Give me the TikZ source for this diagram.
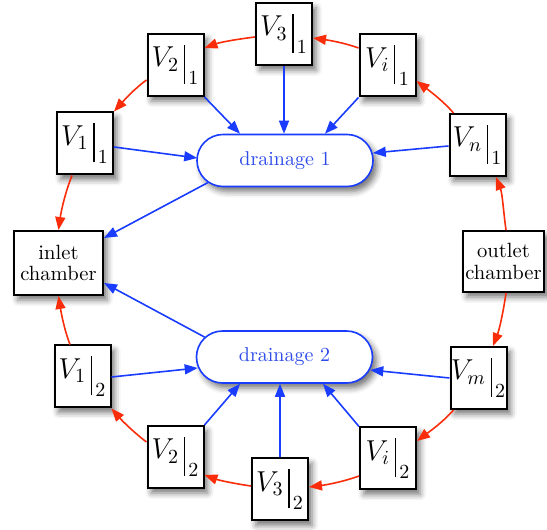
\documentclass[tikz,border=0pt]{standalone}
\usetikzlibrary{shapes.misc,arrows.meta,shadows.blur,calc}
\definecolor{myred}{RGB}{250,45,10}
\definecolor{myblue}{RGB}{25,60,255}
\definecolor{mytext}{RGB}{45,75,235}
\newcommand{\vv}[2]{$V_{#1}\mkern3mu\rule[-8.5pt]{0.6pt}{19.5pt}_{\,#2}$}
\begin{document}
\begin{tikzpicture}[x=0.5pt,y=0.5pt,
  box/.style={draw=black, line width=1pt, fill=white, minimum width=28pt, minimum height=31pt,
    inner sep=0pt, font=\Large,
    blur shadow={shadow xshift=2pt, shadow yshift=-2.5pt, shadow blur radius=3pt, shadow opacity=55}},
  chamber/.style={box, font=\fontsize{10.3}{10.8}\selectfont, align=center},
  drain/.style={rounded rectangle, draw=myblue, line width=0.8pt, fill=white, text=mytext,
    minimum width=88pt, minimum height=26pt, inner sep=0pt,
    blur shadow={shadow xshift=2pt, shadow yshift=-2.5pt, shadow blur radius=3pt, shadow opacity=55}},
  redarr/.style={draw=myred, line width=0.8pt, -{Triangle[length=6.5pt,width=5pt]}, looseness=0.85},
  bluearr/.style={draw=myblue, line width=0.8pt, -{Triangle[length=6.5pt,width=5pt]}},
]
\useasboundingbox (0,0) rectangle (547,530);

% nodes
\node[box] (V31) at (284,496) {\vv{3}{1}};
\node[box] (V21) at (175.5,465) {\vv{2}{1}};
\node[box] (Vi1) at (387.5,464.5) {\vv{i}{1}};
\node[box] (V11) at (85,386.5) {\vv{1}{1}};
\node[box] (Vn1) at (477.5,385) {\vv{n}{1}};
\node[chamber, minimum width=44.5pt, minimum height=32pt] (inlet) at (58.5,267) {inlet\\chamber};
\node[chamber, minimum width=40.5pt, minimum height=30.5pt] (outlet) at (503.5,268.5) {outlet\\chamber};
\node[drain] (d1) at (285,369.5) {drainage 1};
\node[drain] (d2) at (284.5,173) {drainage 2};
\node[box] (V12) at (82.5,153.5) {\vv{1}{2}};
\node[box] (V22) at (175.5,73) {\vv{2}{2}};
\node[box] (V32) at (280,40.5) {\vv{3}{2}};
\node[box] (Vi2) at (388,71.5) {\vv{i}{2}};
\node[box] (Vm2) at (478.5,152) {\vv{m}{2}};

% red circulation arcs (upper)
\draw[redarr] ($(outlet.north)+(2.5,0)$) to[out=98,in=-69] ($(Vn1.south)+(18.5,0)$);
\draw[redarr] ($(Vn1.north west)+(5,0)$) to[out=131,in=-37] ($(Vi1.east)+(0,-15.5)$);
\draw[redarr] ($(Vi1.west)+(0,17.5)$) to[out=160,in=-8] ($(V31.east)+(0,-4)$);
\draw[redarr] ($(V31.west)+(0,-3)$) to[out=187,in=20] ($(V21.east)+(0,17)$);
\draw[redarr] ($(V21.west)+(0,-15)$) to[out=216,in=48] (V11.north east);
\draw[redarr] ($(V11.south)+(-13,0)$) to[out=248,in=82] (inlet.north);
% red circulation arcs (lower)
\draw[redarr] ($(outlet.south)+(2.5,0)$) to[out=-98,in=69] ($(Vm2.north)+(14.5,0)$);
\draw[redarr] ($(Vm2.south west)+(4,0)$) to[out=-131,in=37] ($(Vi2.east)+(0,17.5)$);
\draw[redarr] ($(Vi2.west)+(0,-17.5)$) to[out=-160,in=7] ($(V32.east)+(0,2.5)$);
\draw[redarr] ($(V32.west)+(0,3.5)$) to[out=172,in=-20] ($(V22.east)+(0,-18)$);
\draw[redarr] ($(V22.west)+(0,15)$) to[out=143,in=-49] (V12.south east);
\draw[redarr] ($(V12.north)+(-12.5,0)$) to[out=111,in=-81] (inlet.south);

% blue drainage arrows (upper)
\draw[bluearr] (V21.south east) -- ($(d1.north)+(-45,0)$);
\draw[bluearr] (V31) -- (V31 |- d1.north);
\draw[bluearr] (Vi1.south west) -- ($(d1.north)+(40,0)$);
\draw[bluearr] ($(V11.east)+(0,-3.5)$) -- ($(d1.west)+(1,2.5)$);
\draw[bluearr] ($(Vn1.west)+(0,-1)$) -- ($(d1.east)+(-1,7.5)$);
\draw[bluearr] (d1.196) -- ($(inlet.north east)+(0,-8)$);
% blue drainage arrows (lower)
\draw[bluearr] ($(V12.east)+(0,-0.5)$) -- ($(d2.west)+(2,-11)$);
\draw[bluearr] (V22.north east) -- ($(d2.south)+(-44.5,0)$);
\draw[bluearr] (V32) -- (V32 |- d2.south);
\draw[bluearr] (Vi2.north west) -- ($(d2.south)+(38.5,0)$);
\draw[bluearr] (Vm2.west) -- ($(d2.east)+(-3,-13)$);
\draw[bluearr] (d2.166) -- ($(inlet.south east)+(0,13)$);
\end{tikzpicture}
\end{document}
